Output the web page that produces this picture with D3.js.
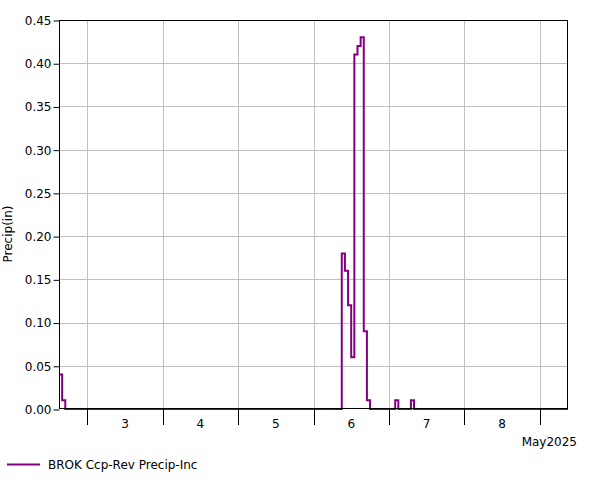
<!DOCTYPE html>
<html><head><meta charset="utf-8">
<script src="https://cdn.jsdelivr.net/npm/d3@7"></script>
<style>body{margin:0;background:#fff}svg{display:block}text{font-family:"DejaVu Sans",Verdana,sans-serif;font-size:12px;fill:#000}</style>
</head><body>
<svg id="c" width="601" height="480"></svg>
<script>
const domainStart = "2025-05-02T15:00:00Z";
const domainEnd = "2025-05-09T09:00:00Z";
const times = ["2025-05-02T15:00:00Z","2025-05-02T16:00:00Z","2025-05-02T17:00:00Z",
  "2025-05-06T09:00:00Z","2025-05-06T10:00:00Z","2025-05-06T11:00:00Z","2025-05-06T12:00:00Z",
  "2025-05-06T13:00:00Z","2025-05-06T14:00:00Z","2025-05-06T15:00:00Z","2025-05-06T16:00:00Z",
  "2025-05-06T17:00:00Z","2025-05-06T18:00:00Z",
  "2025-05-07T02:00:00Z","2025-05-07T03:00:00Z","2025-05-07T07:00:00Z","2025-05-07T08:00:00Z",
  "2025-05-09T09:00:00Z"];
const values = [0.04,0.01,0,
  0.18,0.16,0.12,0.06,
  0.41,0.42,0.43,0.09,
  0.01,0,
  0.01,0,0.01,0,
  0];
const yTicks = [0,0.05,0.10,0.15,0.20,0.25,0.30,0.35,0.40,0.45];
const seriesName = "BROK Ccp-Rev Precip-Inc";
const yLabel = "Precip(in)";
const monthLabel = "May2025";

const L=59, T=20, R=568, B=409;
const svg = d3.select("#c");
const x = d3.scaleUtc().domain([new Date(domainStart), new Date(domainEnd)]).range([L, R]);
const y = d3.scaleLinear().domain([0, 0.45]).range([B, T]);
const days = d3.utcDay.range(d3.utcDay.ceil(x.domain()[0]), x.domain()[1]);

// grid
const g = svg.append("g");
g.selectAll("line.h").data(yTicks.slice(1)).join("line")
  .attr("x1", L).attr("x2", R).attr("y1", d=>Math.round(y(d))+0.5).attr("y2", d=>Math.round(y(d))+0.5)
  .attr("stroke", "#c0c0c0").attr("stroke-width", 1);
g.selectAll("line.v").data(days).join("line")
  .attr("x1", d=>Math.round(x(d))+0.5).attr("x2", d=>Math.round(x(d))+0.5).attr("y1", T).attr("y2", B)
  .attr("stroke", "#c0c0c0").attr("stroke-width", 1);

// data line
const data = times.map((t,i)=>({t:new Date(t), v:values[i]}));
svg.append("path").datum(data)
  .attr("fill","none").attr("stroke","#800080").attr("stroke-width",2)
  .attr("d", d3.line().x(d=>x(d.t)).y(d=>y(d.v)).curve(d3.curveStepAfter));

// frame
svg.append("rect").attr("x", L+0.5).attr("y", T+0.5).attr("width", R-L-1).attr("height", B-T-1)
  .attr("fill","none").attr("stroke","#000").attr("stroke-width",1);

// y axis
const ya = svg.append("g").attr("transform", `translate(${L+0.5},0.5)`)
  .call(d3.axisLeft(y).tickValues(yTicks).tickFormat(d3.format(".2f")).tickSize(6).tickPadding(2));
ya.select(".domain").remove();
ya.selectAll("text").attr("font-size", null).attr("font-family", null);
ya.attr("font-size", null).attr("font-family", null);

// x axis ticks at day boundaries
svg.selectAll("line.xt").data(days).join("line")
  .attr("x1", d=>Math.round(x(d))+0.5).attr("x2", d=>Math.round(x(d))+0.5).attr("y1", B).attr("y2", B+16)
  .attr("stroke","#000");
const fullDays = days.filter(d => d3.utcDay.offset(d,1) <= x.domain()[1]);
svg.selectAll("text.xl").data(fullDays).join("text")
  .attr("x", d=>x(d3.utcHour.offset(d,12))).attr("y", B+19).attr("text-anchor","middle")
  .text(d=>d3.utcFormat("%-d")(d));
svg.append("text").attr("x", 577).attr("y", 446).attr("text-anchor","end").text(monthLabel);

// y label
svg.append("text").attr("transform","translate(12,234) rotate(-90)").attr("text-anchor","middle").text(yLabel);

// legend
svg.append("line").attr("x1",7).attr("x2",40).attr("y1",464.5).attr("y2",464.5).attr("stroke","#800080").attr("stroke-width",2);
svg.append("text").attr("x",48).attr("y",468.5).text(seriesName);
</script>
</body></html>
